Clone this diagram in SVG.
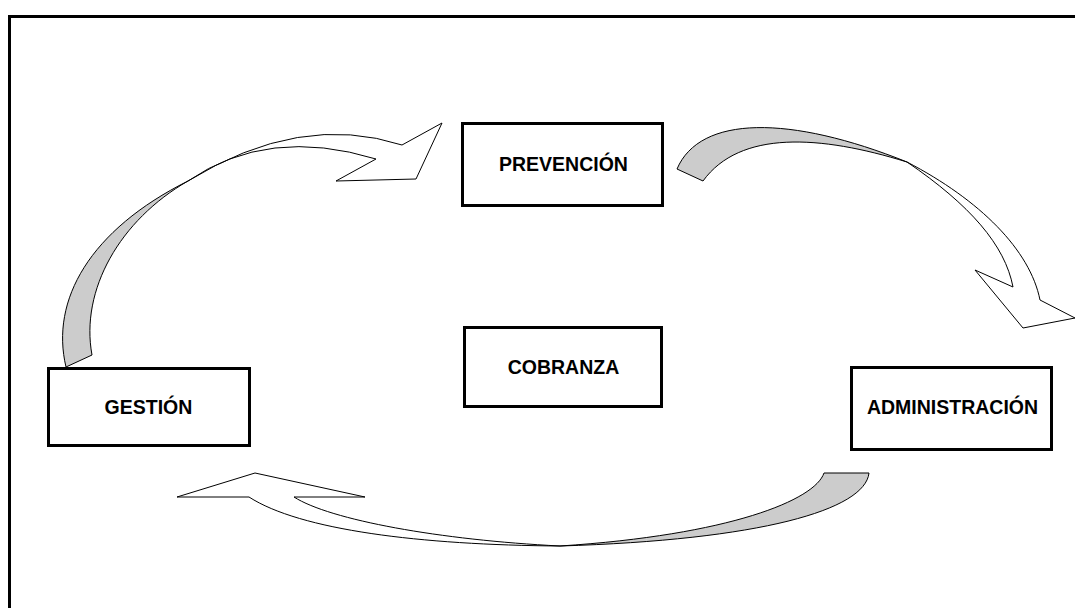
<svg xmlns="http://www.w3.org/2000/svg" width="1075" height="608" viewBox="0 0 1075 608">
<style>
.box{fill:#fff;stroke:#000;stroke-width:3}
.lbl{font-family:"Liberation Sans",Arial,sans-serif;font-weight:bold;font-size:19.5px;fill:#000;text-anchor:middle}
.back{fill:#cccccc;stroke:#000;stroke-width:1}
.front{fill:#fff;stroke:#000;stroke-width:1;stroke-linejoin:miter}
.frame{fill:none;stroke:#000;stroke-width:3}
</style>
<rect width="1075" height="608" fill="#fff"/>
<path class="frame" d="M9.5,608 V16.5 H1075"/>
<g id="connectors">
  <g id="arrow-gestion-prevencion">
    <path class="back" d="M66,367 C50,300 90,230 188,181 C120,220 80,290 92,355 Z"/>
    <path class="front" d="M188,181 Q300,112 402,145 L442,123 L416,179 L336,181 L376,159 Q268,126 188,181 Z"/>
  </g>
  <g id="arrow-prevencion-administracion">
    <path class="back" d="M677,169 C700,115 790,115 907,162 C820,135 740,130 703,181 Z"/>
    <path class="front" d="M907,162 C980,200 1030,250 1040,300 L1075,318 L1023,328 L975,270 L1013,287 C1005,245 970,205 907,162 Z"/>
  </g>
  <g id="arrow-administracion-gestion">
    <path class="back" d="M824,473 L869,473 C865,510 760,540 560,546 C730,535 815,500 824,473 Z"/>
    <path class="front" d="M560,546 C420,545 300,530 249,497 L177,497 L255,473 L365,497 L294,497 C330,520 440,540 560,546 Z"/>
  </g>
</g>
<g id="node-prevencion">
  <rect class="box" x="462.5" y="123.5" width="200" height="82"/>
  <text class="lbl" x="563.5" y="171">PREVENCIÓN</text>
</g>
<g id="node-cobranza">
  <rect class="box" x="464.5" y="327.5" width="197" height="79"/>
  <text class="lbl" x="563.5" y="374">COBRANZA</text>
</g>
<g id="node-gestion">
  <rect class="box" x="48.5" y="368.5" width="201" height="77"/>
  <text class="lbl" x="148.5" y="414">GESTIÓN</text>
</g>
<g id="node-administracion">
  <rect class="box" x="851.5" y="367.5" width="200" height="82"/>
  <text class="lbl" x="952.5" y="414">ADMINISTRACIÓN</text>
</g>
</svg>
